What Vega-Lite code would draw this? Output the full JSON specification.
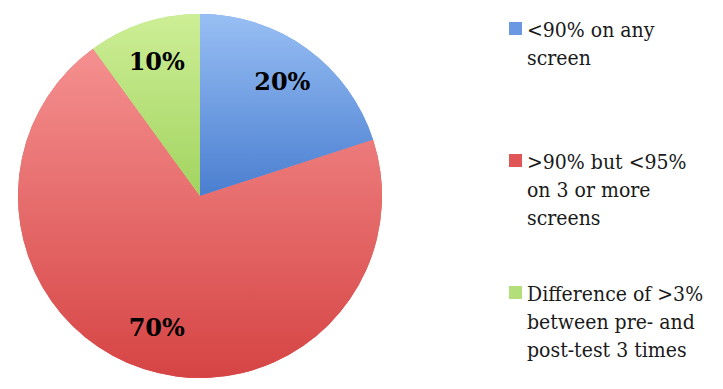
{
  "$schema": "https://vega.github.io/schema/vega-lite/v6.json",
  "width": 400,
  "height": 392,
  "padding": 0,
  "background": "white",
  "data": {
    "values": [
      {"category": "<90% on any\nscreen", "share": 0.2, "rank": 1},
      {"category": ">90% but <95%\non 3 or more\nscreens", "share": 0.7, "rank": 2},
      {"category": "Difference of >3%\nbetween pre- and\npost-test 3 times", "share": 0.1, "rank": 3}
    ]
  },
  "encoding": {
    "theta": {"field": "share", "type": "quantitative", "stack": true},
    "order": {"field": "rank", "type": "quantitative"}
  },
  "layer": [
    {
      "mark": {"type": "arc", "outerRadius": 182},
      "encoding": {
        "color": {
          "field": "category",
          "type": "nominal",
          "sort": null,
          "scale": {"range": ["#6b98e2", "#e05656", "#b4de7a"]},
          "legend": {
            "orient": "none",
            "legendX": 505,
            "legendY": 18,
            "title": null,
            "labelExpr": "split(datum.label, '\\n')",
            "symbolType": "square",
            "symbolSize": 169,
            "symbolStrokeWidth": 0,
            "labelFont": "DejaVu Serif Condensed, DejaVu Serif, serif",
            "labelFontSize": 21,
            "labelColor": "#1a1a1a",
            "labelBaseline": "top",
            "labelOffset": 1,
            "labelLimit": 400,
            "rowPadding": 53,
            "gridAlign": "all",
            "padding": 0,
            "encode": {
              "labels": {
                "update": {
                  "lineHeight": {"value": 28},
                  "dy": {"value": -9}
                }
              }
            }
          }
        }
      }
    },
    {
      "mark": {"type": "arc", "outerRadius": 182},
      "encoding": {
        "fill": {
          "condition": [
            {"test": "datum.rank == 1", "value": {"gradient": "linear", "x1": 0, "y1": 0, "x2": 0, "y2": 1, "stops": [{"offset": 0, "color": "#98bff4"}, {"offset": 1, "color": "#4a7ed0"}]}},
            {"test": "datum.rank == 2", "value": {"gradient": "linear", "x1": 0, "y1": 0, "x2": 0, "y2": 1, "stops": [{"offset": 0, "color": "#f59090"}, {"offset": 1, "color": "#d64444"}]}}
          ],
          "value": {"gradient": "linear", "x1": 0, "y1": 0, "x2": 0, "y2": 1, "stops": [{"offset": 0, "color": "#cdee96"}, {"offset": 1, "color": "#a2d460"}]}
        }
      }
    },
    {
      "mark": {"type": "text", "radius": 140, "font": "DejaVu Serif", "fontWeight": "bold", "fontSize": 24, "color": "#000000", "baseline": "middle", "align": "center"},
      "encoding": {
        "text": {"field": "share", "type": "quantitative", "format": ".0%"}
      }
    }
  ]
}
